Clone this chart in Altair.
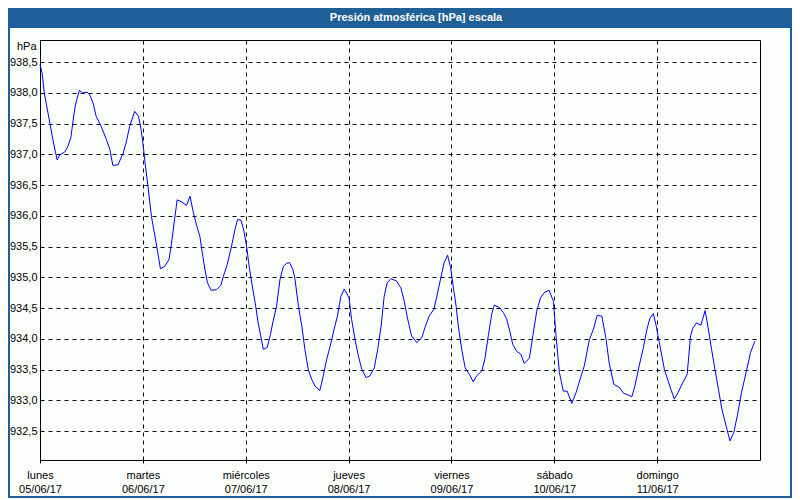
import json
import altair as alt
import pandas as pd

# hours since lunes 05/06/17 00:00 and pressure in hPa
HOURS = [0, 0.5, 1, 2.3, 3.0, 4.0, 4.6, 5.8, 6.5, 7.2, 7.7, 8.2, 8.7, 9.2, 10.0, 11.0, 11.6,
         12.4, 13.1, 14.3, 15.5, 16.3, 17.0, 18.2, 19.4, 20.1, 20.9, 22.1, 23.0, 23.6, 24.1,
         24.6, 25.2, 26.0, 27.1, 28.1, 29.1, 30.1, 30.6, 31.4, 32.0, 33.0, 34.2, 35.0, 35.8,
         36.6, 37.3, 38.0, 38.5, 39.1, 39.9, 41.2, 42.2, 42.8, 43.7, 44.7, 45.5, 46.1, 46.9,
         47.6, 48.2, 48.8, 49.4, 50.2, 50.9, 51.5, 52.1, 53.0, 53.7, 54.4, 55.2, 56.0, 56.8,
         57.6, 58.2, 59.0, 59.5, 60.3, 61.1, 61.8, 62.6, 63.4, 64.2, 65.3, 66.1, 66.9, 67.7,
         68.6, 69.4, 70.2, 71.0, 72.1, 72.7, 73.5, 74.3, 75.1, 76.1, 77.0, 78.0, 78.8, 79.6,
         80.3, 81.0, 81.9, 83.2, 84.2, 84.9, 85.8, 86.7, 87.9, 89.1, 89.8, 90.8, 91.9, 92.6,
         93.6, 94.3, 95.1, 95.8, 96.4, 97.1, 97.6, 98.4, 99.2, 100.2, 101.1, 101.9, 103.1,
         103.8, 104.6, 105.4, 106.0, 107.2, 108.1, 108.9, 109.7, 110.3, 111.2, 112.2, 113.0,
         114.2, 115.0, 115.9, 116.8, 117.8, 118.8, 119.8, 120.4, 121.2, 122.1, 123.0, 124.1,
         125.1, 126.0, 127.0, 128.2, 129.1, 130.0, 131.1, 132.1, 132.8, 133.9, 135.2, 136.1,
         138.1, 138.8, 139.8, 140.8, 141.6, 142.3, 143.1, 143.7, 144.5, 145.7, 146.6, 147.2,
         148.0, 148.9, 150.0, 151.0, 151.8, 152.3, 153.2, 154.2, 155.2, 155.9, 156.7, 157.5,
         158.3, 159.1, 160.1, 161.0, 161.9, 162.7, 163.7, 164.9, 165.8, 166.8]
PRESSURE = [938.46, 938.32, 938.00, 937.51, 937.24, 936.91, 936.99, 937.04, 937.13, 937.27,
            937.54, 937.78, 937.92, 938.04, 938.00, 938.01, 937.97, 937.83, 937.62, 937.45,
            937.24, 937.08, 936.82, 936.83, 937.02, 937.19, 937.45, 937.70, 937.62, 937.40,
            937.13, 936.81, 936.48, 935.99, 935.56, 935.14, 935.18, 935.29, 935.51, 935.94,
            936.26, 936.23, 936.17, 936.32, 936.05, 935.83, 935.67, 935.34, 935.12, 934.91,
            934.79, 934.80, 934.87, 935.02, 935.21, 935.51, 935.78, 935.94, 935.93, 935.75,
            935.51, 935.18, 934.91, 934.59, 934.26, 934.05, 933.83, 933.86, 934.05, 934.29,
            934.53, 934.97, 935.18, 935.23, 935.24, 935.13, 934.97, 934.53, 934.21, 933.83,
            933.50, 933.34, 933.23, 933.16, 933.40, 933.67, 933.88, 934.15, 934.37, 934.69,
            934.81, 934.67, 934.32, 933.99, 933.72, 933.50, 933.37, 933.40, 933.53, 933.83,
            934.21, 934.69, 934.91, 934.98, 934.94, 934.83, 934.64, 934.32, 934.05, 933.94,
            934.02, 934.18, 934.37, 934.48, 934.69, 935.02, 935.24, 935.36, 935.16, 934.86,
            934.53, 934.21, 933.83, 933.53, 933.42, 933.30, 933.40, 933.48, 933.67, 934.05,
            934.40, 934.55, 934.51, 934.43, 934.32, 934.10, 933.91, 933.80, 933.75, 933.60,
            933.69, 934.05, 934.45, 934.67, 934.76, 934.79, 934.61, 934.05, 933.45, 933.15,
            933.15, 932.95, 933.13, 933.34, 933.56, 933.99, 934.15, 934.38, 934.37, 933.99,
            933.61, 933.26, 933.21, 933.12, 933.06, 933.23, 933.56, 933.86, 934.15, 934.33,
            934.41, 934.24, 933.94, 933.50, 933.31, 933.18, 933.02, 933.13, 933.29, 933.42,
            934.05, 934.17, 934.26, 934.22, 934.46, 934.18, 933.83, 933.50, 933.18, 932.86,
            932.58, 932.34, 932.48, 932.75, 933.13, 933.50, 933.78, 933.96]

DAY_NAMES = ["lunes", "martes", "miércoles", "jueves", "viernes", "sábado", "domingo"]
DATES = ["05/06/17", "06/06/17", "07/06/17", "08/06/17", "09/06/17", "10/06/17", "11/06/17"]
X_TICKS = [0, 24, 48, 72, 96, 120, 144]
Y_TICKS = [932.5, 933.0, 933.5, 934.0, 934.5, 935.0, 935.5, 936.0, 936.5, 937.0, 937.5,
           938.0, 938.5]
TITLE = "Presión atmosférica [hPa] escala"
Y_UNIT = "hPa"

FONT = "Liberation Sans"
BLUE_BAR = "#1f5f97"

df = pd.DataFrame({"h": HOURS, "p": PRESSURE})
one = pd.DataFrame({"k": [0]})

x_label_expr = (f"[{json.dumps(DAY_NAMES, ensure_ascii=False)}[datum.value/24], "
                f"{json.dumps(DATES)}[datum.value/24]]")

line = alt.Chart(df).mark_line(color="#0000ff", strokeWidth=1).encode(
    x=alt.X("h:Q",
            scale=alt.Scale(domain=[0, 168], nice=False, zero=False),
            axis=alt.Axis(values=X_TICKS, labelExpr=x_label_expr, title=None,
                          grid=True, gridColor="black", gridDash=[4, 4], gridOpacity=1,
                          domain=False, ticks=True, tickSize=3, tickColor="black",
                          labelPadding=6, labelLineHeight=14, labelFlush=False,
                          labelOverlap=False, labelBound=False, labelFont=FONT,
                          labelFontSize=11, labelColor="black")),
    y=alt.Y("p:Q",
            scale=alt.Scale(domain=[932.03, 938.86], nice=False, zero=False),
            axis=alt.Axis(values=Y_TICKS,
                          labelExpr="replace(format(datum.value, '.1f'), '.', ',')",
                          title=Y_UNIT, titleAngle=0, titleX=-4, titleY=6,
                          titleAlign="right", titleBaseline="middle",
                          titleFont=FONT, titleFontSize=11, titleFontWeight="normal",
                          titleColor="black",
                          grid=True, gridColor="black", gridDash=[4, 4], gridOpacity=1,
                          domain=False, ticks=False, labelPadding=3,
                          labelFont=FONT, labelFontSize=11, labelColor="black")),
)

frame = alt.Chart(one).mark_rect(fill=None, stroke=BLUE_BAR, strokeWidth=2).encode(
    x=alt.value(-31), x2=alt.value(751), y=alt.value(-31), y2=alt.value(457))

bar = alt.Chart(one).mark_rect(color=BLUE_BAR).encode(
    x=alt.value(-32), x2=alt.value(752), y=alt.value(-32), y2=alt.value(-12))

title = alt.Chart(one).mark_text(text=TITLE, color="white", font=FONT, fontSize=11,
                                 fontWeight="bold", align="center",
                                 baseline="middle").encode(
    x=alt.value(376), y=alt.value(-22))

chart = alt.layer(frame, bar, title, line).properties(
    width=720, height=420, padding=0, background="#fcfefc"
).configure_view(stroke="black", strokeWidth=1)

chart.save("out.html", embed_options={"renderer": "svg", "actions": False})
